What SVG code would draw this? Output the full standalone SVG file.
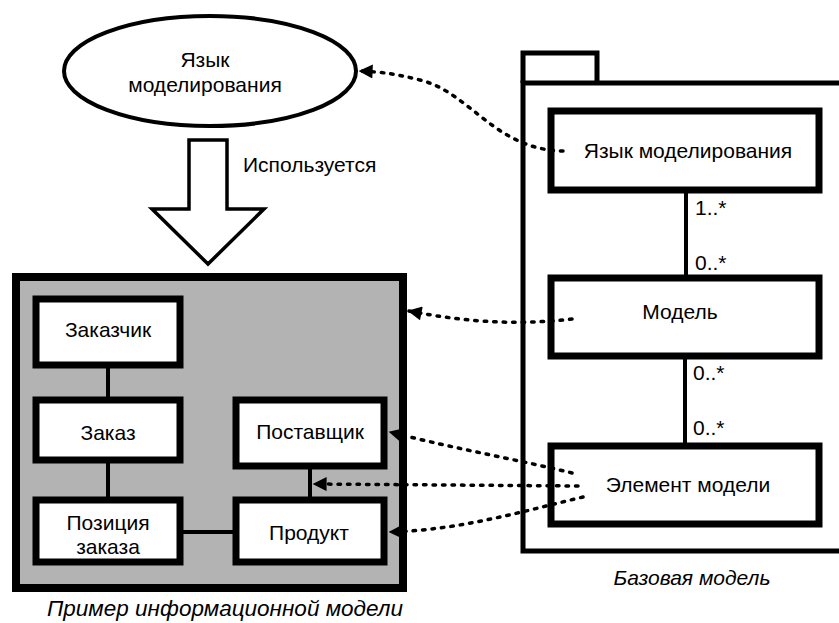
<svg xmlns="http://www.w3.org/2000/svg" width="839" height="623" viewBox="0 0 839 623">
<defs>
<style>
text{font-family:"Liberation Sans",Arial,sans-serif;font-size:21px;fill:#000}
.c{text-anchor:middle}
.it{font-style:italic}
.box{fill:#fff;stroke:#000;stroke-width:7}
.ln{stroke:#000;stroke-width:4;fill:none}
.dep{stroke:#000;stroke-width:3.5;fill:none;stroke-dasharray:2.5 7;stroke-linecap:round;marker-end:url(#ah)}
</style>
<marker id="ah" viewBox="0 0 10 10" refX="9" refY="5" markerWidth="17" markerHeight="14" markerUnits="userSpaceOnUse" orient="auto">
<path d="M0,0 L10,5 L0,10 z" fill="#000"/>
</marker>
</defs>
<rect width="839" height="623" fill="#fff"/>

<g id="lang-ellipse">
<ellipse cx="210" cy="71" rx="146" ry="55" fill="#fff" stroke="#000" stroke-width="4"/>
<text class="c" x="205" y="67">Язык</text>
<text class="c" x="205" y="92">моделирования</text>
</g>

<g id="uses-arrow">
<path d="M189,140 L227,140 L227,209 L264,209 L208,264 L152,209 L189,209 Z" fill="#fff" stroke="#000" stroke-width="3.5" stroke-linejoin="miter"/>
<text x="243" y="172">Используется</text>
</g>

<g id="package">
<path d="M523,83 L523,53 L597,53 L597,83" fill="none" stroke="#000" stroke-width="5"/>
<path d="M845,83 L523,83 L523,551 L845,551" fill="none" stroke="#000" stroke-width="5"/>
<text class="c it" x="692" y="585" style="font-size:21px">Базовая модель</text>
</g>

<g id="info-model">
<rect x="16" y="277" width="387" height="311" fill="#b3b3b3" stroke="#000" stroke-width="8"/>
<text class="c it" x="225" y="616" style="font-size:22.5px">Пример информационной модели</text>
</g>

<g id="customer">
<rect class="box" x="36" y="299" width="144" height="66"/>
<text class="c" x="108" y="337">Заказчик</text>
</g>
<g id="order">
<rect class="box" x="36" y="400" width="144" height="60"/>
<text class="c" x="108" y="440">Заказ</text>
</g>
<g id="order-item">
<rect class="box" x="36" y="500" width="144" height="62"/>
<text class="c" x="108" y="530">Позиция</text>
<text class="c" x="108" y="554">заказа</text>
</g>
<g id="supplier">
<rect class="box" x="236" y="400" width="148" height="66"/>
<text class="c" x="310" y="439">Поставщик</text>
</g>
<g id="product">
<rect class="box" x="236" y="500" width="148" height="62"/>
<text class="c" x="309" y="540">Продукт</text>
</g>

<g id="mm-language">
<rect class="box" x="551" y="111" width="268" height="79"/>
<text class="c" x="688" y="158">Язык моделирования</text>
</g>
<g id="mm-model">
<rect class="box" x="551" y="278" width="268" height="78"/>
<text class="c" x="680" y="319">Модель</text>
</g>
<g id="mm-element">
<rect class="box" x="551" y="446" width="268" height="78"/>
<text class="c" x="688" y="492">Элемент модели</text>
</g>

<g id="connectors">
<line class="ln" x1="108" y1="368" x2="108" y2="397"/>
<line class="ln" x1="108" y1="463" x2="108" y2="497"/>
<line class="ln" x1="183" y1="532" x2="233" y2="532"/>
<line class="ln" x1="310" y1="469" x2="310" y2="497"/>
<line class="ln" stroke-width="5" x1="686" y1="193" x2="686" y2="275"/>
<line class="ln" stroke-width="5" x1="685" y1="359" x2="685" y2="443"/>
<path class="dep" d="M563,151 C495,150 470,92 420,80 C400,75 385,72 360,71"/>
<path class="dep" d="M572,319 C520,325 470,323 409,311"/>
<path class="dep" d="M572,473 C520,460 460,450 390,432"/>
<path class="dep" d="M578,486 L314,484"/>
<path class="dep" d="M583,497 C520,512 460,530 390,532"/>
</g>

<g id="multiplicities">
<text x="695" y="215">1..*</text>
<text x="695" y="270">0..*</text>
<text x="693" y="380">0..*</text>
<text x="693" y="435">0..*</text>
</g>
</svg>
